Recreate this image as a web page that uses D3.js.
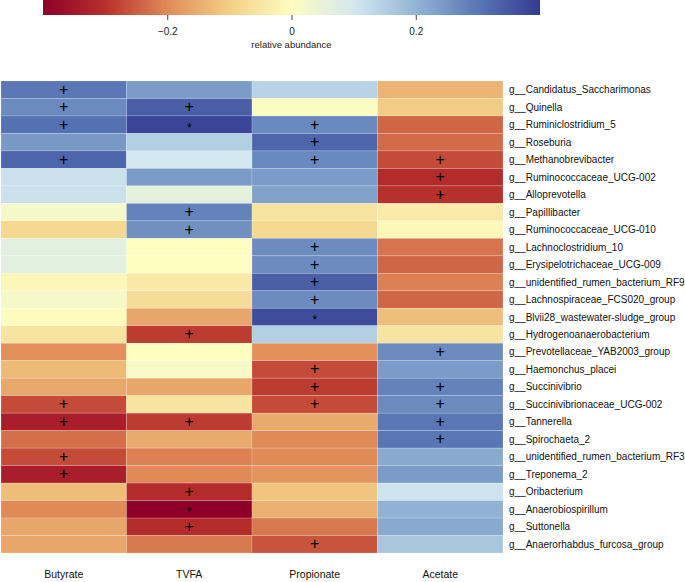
<!DOCTYPE html>
<html><head><meta charset="utf-8">
<script src="https://cdn.jsdelivr.net/npm/d3@7"></script>
<style>body{margin:0;background:#fff;}svg{display:block;font-family:"Liberation Sans",Arial,sans-serif;}</style>
</head><body>
<svg id="chart" width="685" height="582"></svg>
<script>
const columns = ["Butyrate","TVFA","Propionate","Acetate"];
const genera = ["g__Candidatus_Saccharimonas","g__Quinella","g__Ruminiclostridium_5","g__Roseburia","g__Methanobrevibacter","g__Ruminococcaceae_UCG-002","g__Alloprevotella","g__Papillibacter","g__Ruminococcaceae_UCG-010","g__Lachnoclostridium_10","g__Erysipelotrichaceae_UCG-009","g__unidentified_rumen_bacterium_RF9","g__Lachnospiraceae_FCS020_group","g__Blvii28_wastewater-sludge_group","g__Hydrogenoanaerobacterium","g__Prevotellaceae_YAB2003_group","g__Haemonchus_placei","g__Succinivibrio","g__Succinivibrionaceae_UCG-002","g__Tannerella","g__Spirochaeta_2","g__unidentified_rumen_bacterium_RF3","g__Treponema_2","g__Oribacterium","g__Anaerobiospirillum","g__Suttonella","g__Anaerorhabdus_furcosa_group"];
const butyrate   = [0.30,0.267,0.31,0.245,0.33,0.114,0.114,0.02,-0.08,0.064,0.064,-0.015,0.02,-0.005,-0.054,-0.19,-0.13,-0.157,-0.27,-0.338,-0.23,-0.27,-0.338,-0.126,-0.20,-0.16,-0.16];
const tvfa       = [0.241,0.34,0.383,0.15,0.10,0.24,0.059,0.28,0.26,0.0,0.0,-0.045,-0.07,-0.16,-0.287,0.0,0.015,-0.16,-0.054,-0.287,-0.153,-0.21,-0.20,-0.31,-0.40,-0.31,-0.22];
const propionate = [0.142,0.005,0.27,0.33,0.27,0.24,0.231,-0.054,-0.08,0.266,0.266,0.34,0.266,0.37,0.15,-0.19,-0.27,-0.287,-0.27,-0.153,-0.20,-0.20,-0.185,-0.115,-0.145,-0.22,-0.26];
const acetate    = [-0.139,-0.104,-0.24,-0.235,-0.27,-0.31,-0.30,-0.041,-0.01,-0.225,-0.24,-0.21,-0.24,-0.125,-0.054,0.267,0.24,0.28,0.267,0.30,0.30,0.217,0.24,0.11,0.203,0.217,0.166];
const sigButyrate   = ["+","+","+","","+","","","","","","","","","","","","","","+","+","","+","+","","","",""];
const sigTvfa       = ["","+","*","","","","","+","+","","","","","","+","","","","","+","","","","+","*","+",""];
const sigPropionate = ["","","+","+","+","","","","","+","+","+","+","*","","","+","+","+","","","","","","","","+"];
const sigAcetate    = ["","","","","+","+","+","","","","","","","","","+","","+","+","+","+","","","","","",""];
const colorTicks = [-0.2, 0, 0.2];
const colorDomain = [-0.4,-0.3,-0.2,-0.1,0,0.1,0.2,0.3,0.4];
const colorRange = ["#8e0029","#b8302b","#e08a58","#f3cf86","#fdfdc0","#d3e8f0","#92b5d5","#5877b4","#343a92"];

const values = [butyrate, tvfa, propionate, acetate];
const sigs = [sigButyrate, sigTvfa, sigPropionate, sigAcetate];

const svg = d3.select("#chart");
const color = d3.scaleLinear().domain(colorDomain).range(colorRange).interpolate(d3.interpolateRgb).clamp(true);

const x = d3.scaleBand().domain(columns).range([1, 503]).padding(0);
const y = d3.scaleBand().domain(genera).range([81, 553]).padding(0);

const cells = [];
columns.forEach((c, ci) => genera.forEach((g, gi) => cells.push({c, g, v: values[ci][gi], s: sigs[ci][gi]})));

svg.append("g").selectAll("rect").data(cells).join("rect")
  .attr("x", d => x(d.c)).attr("y", d => y(d.g))
  .attr("width", x.bandwidth()).attr("height", y.bandwidth())
  .attr("fill", d => color(d.v))
  .attr("stroke", "#ffffff").attr("stroke-opacity", 0.3).attr("stroke-width", 0.6);

svg.append("g").selectAll("text").data(cells.filter(d => d.s)).join("text")
  .attr("x", d => x(d.c) + x.bandwidth()/2)
  .attr("y", d => y(d.g) + y.bandwidth()/2 + (d.s === "*" ? 7 : 5))
  .attr("text-anchor", "middle")
  .attr("font-size", d => d.s === "*" ? 12 : 16)
  .attr("fill", "#000")
  .text(d => d.s);

// row labels
svg.append("g").selectAll("text").data(genera).join("text")
  .attr("x", 509).attr("y", d => y(d) + y.bandwidth()/2)
  .attr("dy", "0.35em").attr("font-size", 10).attr("fill", "#111")
  .text(d => d);

// column labels
svg.append("g").selectAll("text").data(columns).join("text")
  .attr("x", d => x(d) + x.bandwidth()/2).attr("y", 578)
  .attr("text-anchor", "middle").attr("font-size", 10.5).attr("fill", "#111")
  .text(d => d);

// color bar
const cb = d3.scaleLinear().domain([-0.4, 0.4]).range([43, 540]);
const defs = svg.append("defs");
const grad = defs.append("linearGradient").attr("id", "cbgrad").attr("x1", "0%").attr("x2", "100%");
d3.range(0, 1.0001, 0.02).forEach(t => {
  grad.append("stop").attr("offset", (t*100) + "%").attr("stop-color", color(-0.4 + 0.8*t));
});
svg.append("rect").attr("x", 43).attr("y", 0).attr("width", 497).attr("height", 15).attr("fill", "url(#cbgrad)");
const cbAxis = d3.axisBottom(cb).tickValues(colorTicks).tickSize(5).tickPadding(8)
  .tickFormat(d => d === 0 ? "0" : d3.format(".1f")(d).replace("-", "\u22120"));
const ag = svg.append("g").attr("transform", "translate(0,15)").call(cbAxis);
ag.select(".domain").remove();
ag.selectAll(".tick line").attr("stroke", "#444");
ag.selectAll(".tick text").attr("font-size", 10).attr("fill", "#222").attr("font-family", "Liberation Sans, Arial, sans-serif");
svg.append("text").attr("x", cb(0)).attr("y", 48).attr("text-anchor", "middle")
  .attr("font-size", 9.5).attr("fill", "#222").text("relative abundance");
</script>
</body></html>
